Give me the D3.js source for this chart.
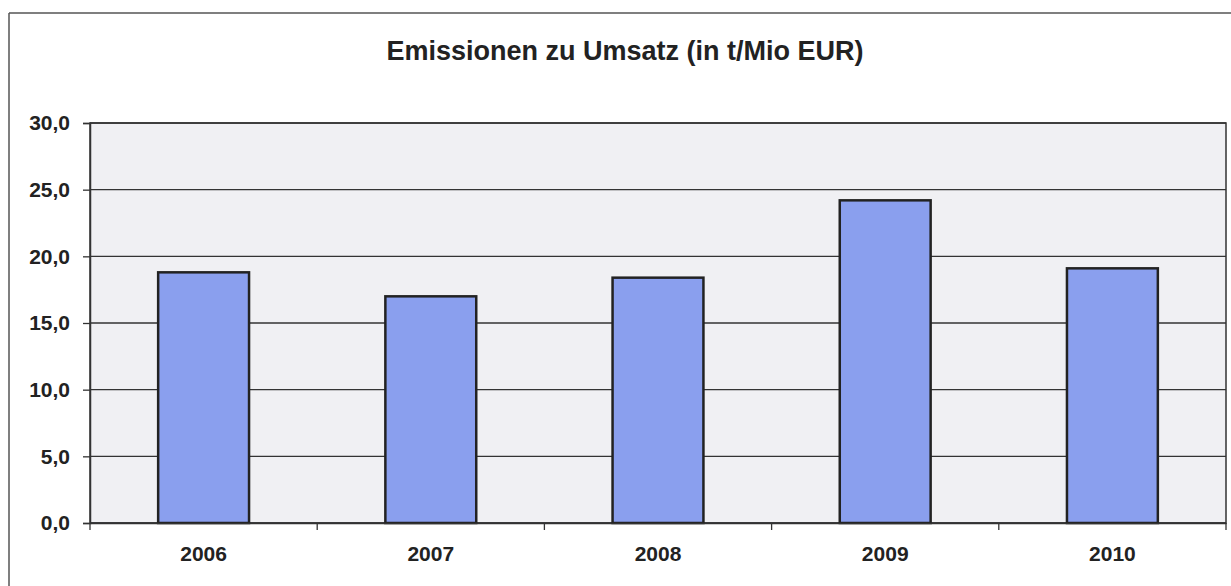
<!DOCTYPE html>
<meta charset="utf-8">
<script src="https://d3js.org/d3.v7.min.js"></script>
<style>
  body { margin: 0; background: #fff; }
  text { font-family: "Liberation Sans", Arial, sans-serif; font-weight: bold; fill: #222; }
</style>
<div id="chart"></div>
<script>
    // data
    const years = ["2006", "2007", "2008", "2009", "2010"];
    const emissions = [18.8, 17.0, 18.4, 24.2, 19.1];
    const yTicks = [0, 5, 10, 15, 20, 25, 30];

    const W = 1231, H = 586;
    const margin = {top: 123, right: 5, bottom: 63, left: 90};
    const width = W - margin.left - margin.right,
          height = H - margin.top - margin.bottom;

    const svg = d3.select("#chart").append("svg")
        .attr("width", W).attr("height", H);

    // outer frame (only top + left edge visible in the scan)
    svg.append("line").attr("x1", 9).attr("x2", W).attr("y1", 13).attr("y2", 13)
        .style("stroke", "#555").style("stroke-width", 1.5);
    svg.append("line").attr("x1", 9).attr("x2", 9).attr("y1", 13).attr("y2", H)
        .style("stroke", "#555").style("stroke-width", 1.5);

    svg.append("text")
        .attr("x", 625).attr("y", 60)
        .attr("text-anchor", "middle")
        .style("font-size", "27px")
        .text("Emissionen zu Umsatz (in t/Mio EUR)");

    const g = svg.append("g").attr("transform", `translate(${margin.left},${margin.top})`);

    const x = d3.scaleBand().domain(years).range([0, width]).paddingInner(0.6).paddingOuter(0.3);
    const y = d3.scaleLinear().domain([0, 30]).range([height, 0]);

    // plot background
    g.append("rect").attr("width", width).attr("height", height)
        .style("fill", "#f0f0f3").style("stroke", "#333").style("stroke-width", 1.5);

    // gridlines
    g.selectAll(".grid").data(yTicks).join("line")
        .attr("class", "grid")
        .attr("x1", 0).attr("x2", width)
        .attr("y1", d => y(d)).attr("y2", d => y(d))
        .style("stroke", "#333").style("stroke-width", 1.3);

    // bars
    g.selectAll(".bar").data(emissions).join("rect")
        .attr("class", "bar")
        .attr("x", (d, i) => x(years[i]))
        .attr("y", d => y(d))
        .attr("width", x.bandwidth())
        .attr("height", d => y(0) - y(d))
        .style("fill", "#8a9fee").style("stroke", "#222").style("stroke-width", 2.5);

    // y axis
    const yAxis = g.append("g").call(d3.axisLeft(y).tickValues(yTicks).tickSize(7).tickPadding(13)
        .tickFormat(d => d3.format(".1f")(d).replace(".", ",")));
    yAxis.select(".domain").style("stroke", "#333").style("stroke-width", 1.5);
    yAxis.selectAll(".tick line").style("stroke", "#333").style("stroke-width", 1.3);
    yAxis.selectAll("text").style("font-size", "21px").style("fill", "#222");

    // x axis with ticks at band boundaries
    const xAxis = g.append("g").attr("transform", `translate(0,${height})`)
        .call(d3.axisBottom(x).tickSize(0).tickPadding(23));
    xAxis.select(".domain").style("stroke", "#333").style("stroke-width", 1.5);
    xAxis.selectAll("text").style("font-size", "21px").style("fill", "#222");
    const step = x.step();
    g.selectAll(".xtick").data(d3.range(years.length + 1)).join("line")
        .attr("class", "xtick")
        .attr("x1", i => i * step).attr("x2", i => i * step)
        .attr("y1", height).attr("y2", height + 7)
        .style("stroke", "#333").style("stroke-width", 1.3);
</script>
